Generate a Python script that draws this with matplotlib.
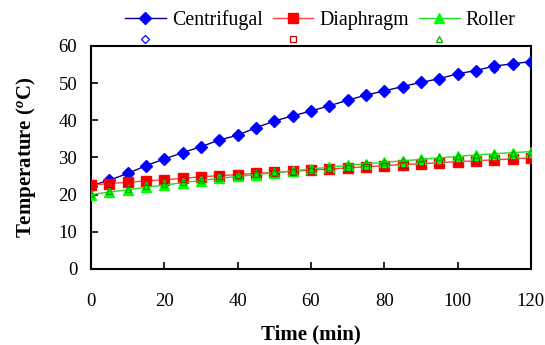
import matplotlib
matplotlib.use("Agg")
import matplotlib.pyplot as plt
import numpy as np

plt.rcParams['font.family'] = ['Liberation Serif', 'DejaVu Serif']
plt.rcParams['mathtext.fontset'] = 'custom'
plt.rcParams['mathtext.rm'] = 'Liberation Serif'
plt.rcParams['mathtext.bf'] = 'Liberation Serif:bold'
plt.rcParams['mathtext.it'] = 'Liberation Serif:italic:bold'

time_min = list(range(0, 125, 5))

centrifugal = [22.4, 23.9, 25.7, 27.8, 29.6, 31.3, 32.9, 34.7, 36.0, 38.0,
               39.8, 41.2, 42.5, 43.9, 45.4, 46.8, 47.9, 49.1, 50.2, 51.2,
               52.5, 53.4, 54.6, 55.2, 55.8]
centrifugal_2 = [22.3, 23.8, 25.6, 27.7, 29.5, 31.2, 32.8, 34.6, 36.0, 37.9,
                 39.7, 41.1, 42.4, 43.8, 45.3, 46.7, 47.8, 49.0, 50.1, 51.1,
                 52.4, 53.2, 53.9, 55.0, 55.7]
diaphragm = [22.6, 23.0, 23.3, 23.7, 24.0, 24.4, 24.8, 25.1, 25.4, 25.7,
             26.0, 26.3, 26.6, 26.9, 27.2, 27.5, 27.8, 28.1, 28.3, 28.6,
             28.9, 29.1, 29.4, 29.6, 29.9]
diaphragm_2 = [22.4, 22.8, 23.1, 23.5, 23.9, 24.3, 24.6, 24.9, 25.3, 25.6,
               25.9, 26.2, 26.5, 26.8, 27.1, 27.4, 27.7, 28.0, 28.2, 28.5,
               28.8, 29.0, 29.3, 29.5, 29.8]
roller = [20.0, 20.7, 21.3, 22.0, 22.6, 23.2, 23.8, 24.4, 24.9, 25.4,
          25.9, 26.4, 26.9, 27.4, 27.9, 28.3, 28.7, 29.1, 29.5, 29.9,
          30.3, 30.7, 31.0, 31.3, 31.6]
roller_2 = [20.3, 21.0, 21.6, 22.2, 22.8, 23.4, 24.0, 24.6, 25.1, 25.6,
            26.1, 26.5, 27.0, 27.5, 27.9, 28.4, 28.8, 29.2, 29.6, 30.0,
            30.3, 30.6, 30.9, 31.2, 31.5]

fig = plt.figure(figsize=(5.45, 3.45), dpi=100)
ax = fig.add_axes([0.167, 0.2203, 0.807, 0.6464])

ms = 6.8
c_line, = ax.plot(time_min, centrifugal, color='#000080', lw=1.0,
                  marker='D', ms=ms - 0.5, mfc='#0000ff', mec='#0000ff',
                  label='Centrifugal', zorder=3)
c_h, = ax.plot(time_min, centrifugal_2, ls='none', marker='D', ms=4,
               mfc='none', mec='#0000ff', mew=0.9, label=' ', zorder=2)
d_line, = ax.plot(time_min, diaphragm, color='#ff4040', lw=1.0,
                  marker='s', ms=ms, mfc='#ff0000', mec='#ff0000',
                  label='Diaphragm', zorder=3)
d_h, = ax.plot(time_min, diaphragm_2, ls='none', marker='s', ms=4,
               mfc='none', mec='#cc0000', mew=0.9, label=' ', zorder=4)
r_line, = ax.plot(time_min, roller, color='#20e020', lw=1.0,
                  marker='^', ms=ms + 1, mfc='#00ff00', mec='#00ff00',
                  label='Roller', zorder=3)
r_h, = ax.plot(time_min, roller_2, ls='none', marker='^', ms=5,
               mfc='none', mec='#00aa00', mew=0.9, label=' ', zorder=4)

ax.set_xlim(0, 120)
ax.set_ylim(0, 60)
ax.set_xticks(np.arange(0, 121, 20))
ax.set_yticks(np.arange(0, 61, 10))
ax.tick_params(direction='in', length=5, width=1.2, labelsize=13.5,
               top=False, right=False)
ax.tick_params(axis='x', pad=17)
ax.tick_params(axis='y', pad=10)
for s in ax.spines.values():
    s.set_linewidth(1.5)

ax.set_xlabel('Time (min)', fontsize=15, fontweight='bold', labelpad=11)
ax.set_ylabel(r'Temperature ($\mathit{^o}$C)', fontsize=15,
              fontweight='bold', labelpad=15)

fig.legend([c_line, c_h, d_line, d_h, r_line, r_h],
           ['Centrifugal', '', 'Diaphragm', '', 'Roller', ''],
           loc='upper left', bbox_to_anchor=(0.215, 0.995), ncol=3,
           frameon=False, fontsize=14.3, handlelength=2.05,
           handletextpad=0.3, columnspacing=0.5, labelspacing=0.14,
           borderaxespad=0)

fig.savefig('out.png', dpi=100)
